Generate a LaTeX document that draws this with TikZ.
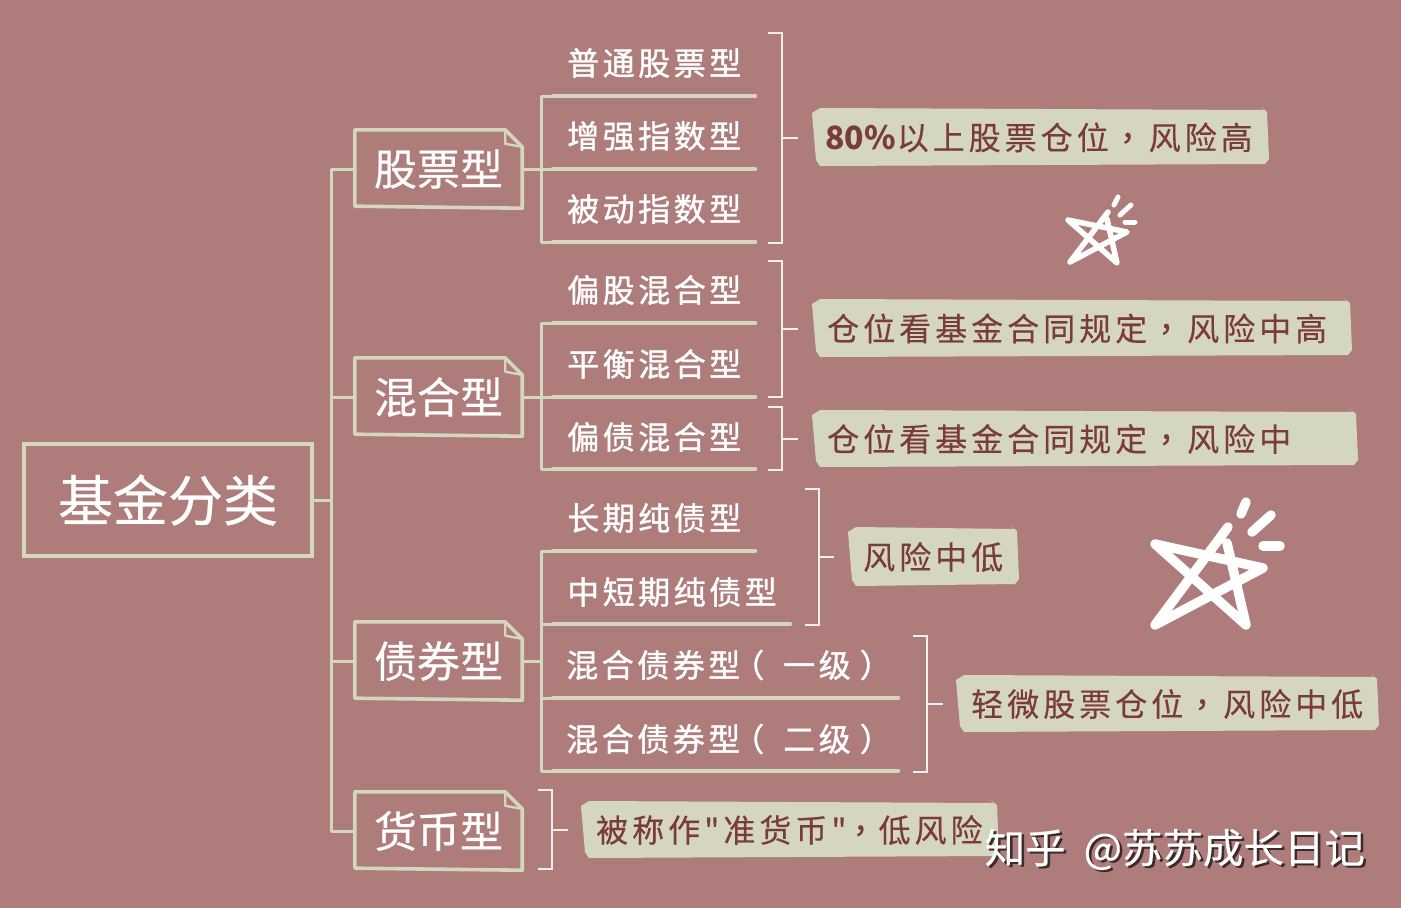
\documentclass[tikz,border=0pt]{standalone}
\usepackage{fontspec}
\setmainfont{Noto Sans CJK SC}
\newfontfamily\cjkleaf[LetterSpace=11,FakeBold=1.1]{Noto Sans CJK SC}
\newfontfamily\cjktag[LetterSpace=12.5,FakeBold=0.3]{Noto Sans CJK SC}
\newfontfamily\cjkcomma[LetterSpace=12.5,FakeBold=0.6]{Noto Sans CJK TC}
\newfontfamily\cjkmid[FakeBold=0.4]{Noto Sans CJK SC}
\definecolor{bgc}{HTML}{AF7C7C}
\definecolor{linec}{HTML}{D5D6C2}
\definecolor{tagc}{HTML}{D5D6C2}
\definecolor{inkc}{HTML}{7A3B3B}
\definecolor{brkc}{HTML}{F4EFEA}
\tikzset{
  conn/.style={draw=linec,line width=3pt,line join=round},
  ul/.style={draw=linec,line width=4.6pt,line cap=round},
  brkline/.style={draw=brkc,line width=2pt},
  rootbox/.style={draw=linec,line width=3.2pt,minimum width=288pt,minimum height=112pt,inner sep=0pt,text=white,font=\fontsize{55}{60}\selectfont\cjkmid},
  catnode/.style={minimum width=167pt,minimum height=78pt,inner sep=0pt,text=white,font=\fontsize{43}{48}\selectfont\cjkmid},
  foldline/.style={draw=linec,line width=3.6pt,line join=round},
  leaftext/.style={anchor=west,inner sep=0pt,text=white,font=\fontsize{32}{38}\selectfont\cjkleaf},
  tagtext/.style={anchor=west,inner sep=0pt,text=inkc,font=\fontsize{32}{38}\selectfont\cjktag},
  tagfill/.style={fill=tagc},
  starline/.style={draw=white,line cap=round,line join=round},
  wmtext/.style={anchor=west,inner sep=0pt,font=\fontsize{40.5}{46}\selectfont\cjkmid},
}
\newcommand{\catbox}[3]{% name, y centre, text
  \node[catnode] (#1) at (438.5,#2) {#3};
  \draw[foldline] (#1.north west) -- ([xshift=-17pt]#1.north east) -- ([yshift=-17pt]#1.north east) -- (#1.south east) -- ([yshift=2pt]#1.south west) -- cycle;
  \draw[draw=linec,line width=2.4pt,line join=round] ([xshift=-17pt]#1.north east) -- ([xshift=-17pt,yshift=-14pt]#1.north east) -- ([yshift=-17pt]#1.north east);
}
\newcommand{\leafitem}[6]{% name, x text, y text, y line, x end, text
  \node[leaftext] (#1) at (#2,#3) {#6};
  \coordinate (#1-s) at (553,#4);
  \coordinate (#1-e) at (#5,#4);
  \draw[ul] (#1-s) -- (#1-e);
}
\newcommand{\tagitem}[6]{% name, x1, y1, x2, y2, text
  \fill[tagfill] (#2,#3+4) -- (#2+8,#3-1) -- (#4-3,#3+1) -- (#4-6,#3-2) -- (#4,#3+3) -- (#4+2,#5-6) -- (#4-2,#5-1) -- (#2+8,#5+1) -- (#2+4,#5-5) -- cycle;
  \node[tagtext] (#1) at (#2+15,{(#3+#5)/2+0.5}) {#6};
}
\newcommand{\brkt}[6]{% name, x, y1, y2, ytick, x tick end
  \coordinate (#1-a) at (#2-14,#3);
  \coordinate (#1-b) at (#2-14,#4);
  \coordinate (#1-m) at (#2,#5);
  \coordinate (#1-t) at (#6,#5);
  \draw[brkline] (#1-a) -| (#1-m) |- (#1-b);
  \draw[brkline] (#1-m) -- (#1-t);
}
\newcommand{\zc}{\hspace{3pt}{\cjkcomma ，}\hspace{5pt}}
\begin{document}
\begin{tikzpicture}[x=1pt,y=-1pt]
\fill[bgc] (0,0) rectangle (1401,908);
\useasboundingbox (0,0) rectangle (1401,908);

% root and categories
\node[rootbox] (root) at (168,500) {基金分类};
\catbox{catA}{169}{股票型}
\catbox{catB}{397}{混合型}
\catbox{catC}{661}{债券型}
\catbox{catD}{831}{货币型}

% trunk
\coordinate (trunk) at (331,500);
\draw[conn] (root.east) -- (trunk);
\draw[conn] (catA.west) -| (trunk);
\draw[conn] (catB.west) -- (catB.west -| trunk);
\draw[conn] (catC.west) -- (catC.west -| trunk);
\draw[conn] (catD.west) -| (trunk);

% leaves
\leafitem{a1}{567}{63}{96}{755}{普通股票型}
\leafitem{a2}{567}{136}{169}{755}{增强指数型}
\leafitem{a3}{567}{209}{242}{755}{被动指数型}
\leafitem{b1}{567}{290}{323}{755}{偏股混合型}
\leafitem{b2}{567}{364}{397}{755}{平衡混合型}
\leafitem{b3}{567}{437}{469}{755}{偏债混合型}
\leafitem{c1}{567}{518}{551}{755}{长期纯债型}
\leafitem{c2}{567}{592}{624}{790}{中短期纯债型}
\leafitem{c3}{566}{665}{698}{898}{混合债券型\hspace{-8pt}（\hspace{19pt}一级\hspace{9pt}）}
\leafitem{c4}{566}{739}{771}{898}{混合债券型\hspace{-8pt}（\hspace{19pt}二级\hspace{9pt}）}

% buses
\coordinate (busA) at (541,169);
\coordinate (busB) at (541,397);
\coordinate (busC) at (541,661);
\draw[conn] (catA.east) -- (busA) -- (a2-s);
\draw[conn] (a1-s) -| (busA) |- (a3-s);
\draw[conn] (catB.east) -- (busB) -- (b2-s);
\draw[conn] (b1-s) -| (busB) |- (b3-s);
\draw[conn] (catC.east) -- (busC);
\draw[conn] (c1-s) -| (busC) |- (c4-s);
\draw[conn] (c2-s) -- (c2-s -| busC);
\draw[conn] (c3-s) -- (c3-s -| busC);

% tags
\tagitem{t1}{812}{109}{1267}{165}{\hspace{-2pt}{\normalfont\bfseries 80\%}\hspace{1pt}以上股票仓位\zc 风险高}
\tagitem{t2}{812}{300}{1350}{356}{仓位看基金合同规定\zc 风险中高}
\tagitem{t3}{812}{411}{1356}{466}{仓位看基金合同规定\zc 风险中}
\tagitem{t4}{848}{528}{1017}{585}{风险中低}
\tagitem{t5}{956}{676}{1377}{731}{轻微股票仓位\zc 风险中低}
\tagitem{t6}{581}{802}{997}{857}{被称作"准货币"\hspace{-2pt}{\cjkcomma ，}\hspace{2pt}低风险}

% brackets
\brkt{k1}{782}{33}{243}{138}{798}
\brkt{k2}{782}{261}{397}{329}{798}
\brkt{k3}{782}{407}{470}{439}{798}
\brkt{k4}{819}{489}{625}{557}{834}
\brkt{k5}{927}{636}{772}{704}{943}
\brkt{k6}{552}{790}{869}{830}{568}

% small star
\draw[starline,line width=5.5pt] (1108,212) -- (1070,262) -- (1127,232) -- (1068,220) -- (1117,263) -- (1107,219);
\draw[starline,line width=5pt] (1114,205) -- (1118,197);
\draw[starline,line width=5pt] (1120,215) -- (1131,205);
\draw[starline,line width=5pt] (1125,222) -- (1135,222);
% big star
\draw[starline,line width=9.5pt] (1228,527) -- (1155,625) -- (1263,568) -- (1155,544) -- (1246,625) -- (1227,543);
\draw[starline,line width=9.5pt] (1241,514) -- (1246,502);
\draw[starline,line width=9.5pt] (1252,532) -- (1271,515);
\draw[starline,line width=9.5pt] (1263,546) -- (1280,546);

% watermark
\node[wmtext,text=black!65!bgc] (wms) at (987,851.5) {知乎\hspace{18pt}@苏苏成长日记};
\node[wmtext,text=white] (wm) at (984.5,849.5) {知乎\hspace{18pt}@苏苏成长日记};
\end{tikzpicture}
\end{document}
